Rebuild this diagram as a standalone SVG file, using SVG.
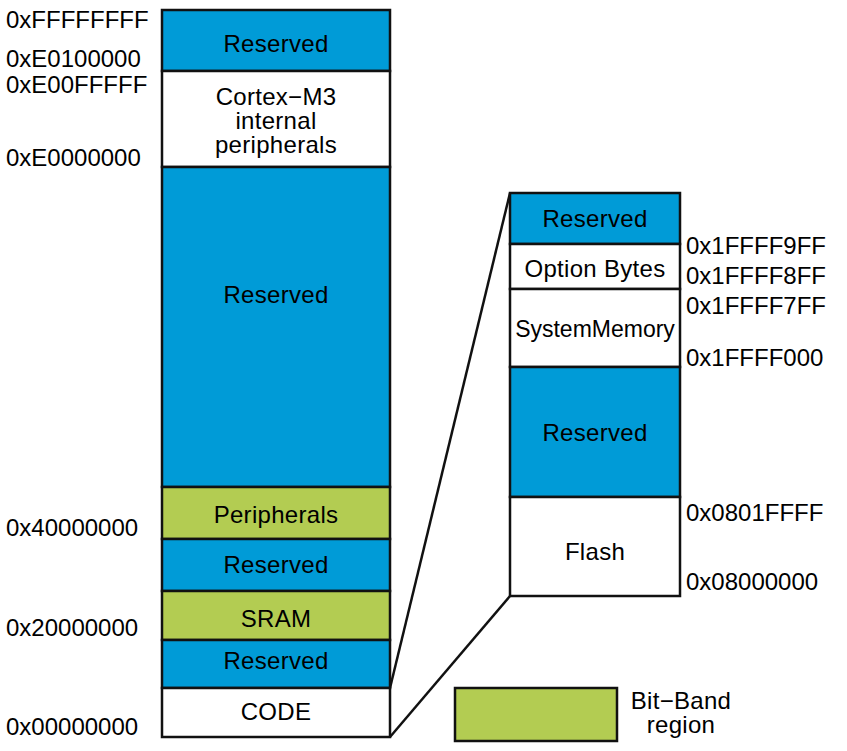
<svg xmlns="http://www.w3.org/2000/svg" width="847" height="751" viewBox="0 0 847 751">
<style>
.b{fill:#009BD7;stroke:#111;stroke-width:2.5}
.g{fill:#B3CC52;stroke:#111;stroke-width:2.5}
.w{fill:#fff;stroke:#111;stroke-width:2.5}
text{font-family:"Liberation Sans",Arial,sans-serif;fill:#000}
.l{font-size:24px;text-anchor:middle;letter-spacing:0.3px}
.a{font-size:24px}
.c{fill:none;stroke:#111;stroke-width:2.5}
</style>
<rect width="847" height="751" fill="#fff"/>
<g id="connectors">
<line class="c" x1="390" y1="688" x2="510" y2="193"/>
<line class="c" x1="390" y1="737" x2="510" y2="596"/>
</g>
<g id="reserved-top"><rect class="b" x="162" y="10" width="228" height="61"/><text class="l" x="276" y="52">Reserved</text></g>
<g id="cortex"><rect class="w" x="162" y="71" width="228" height="96"/><text class="l" x="276" y="105">Cortex−M3</text><text class="l" x="276" y="129">internal</text><text class="l" x="276" y="153">peripherals</text></g>
<g id="reserved-big"><rect class="b" x="162" y="167" width="228" height="320"/><text class="l" x="276" y="303">Reserved</text></g>
<g id="peripherals"><rect class="g" x="162" y="487" width="228" height="52"/><text class="l" x="276" y="523">Peripherals</text></g>
<g id="reserved-2"><rect class="b" x="162" y="539" width="228" height="52"/><text class="l" x="276" y="573">Reserved</text></g>
<g id="sram"><rect class="g" x="162" y="591" width="228" height="49"/><text class="l" x="276" y="627">SRAM</text></g>
<g id="reserved-3"><rect class="b" x="162" y="640" width="228" height="48"/><text class="l" x="276" y="669">Reserved</text></g>
<g id="code"><rect class="w" x="162" y="688" width="228" height="49"/><text class="l" x="276" y="720">CODE</text></g>
<g id="left-addresses">
<text class="a" x="6" y="28">0xFFFFFFFF</text>
<text class="a" x="6" y="67">0xE0100000</text>
<text class="a" x="6" y="93">0xE00FFFFF</text>
<text class="a" x="6" y="166">0xE0000000</text>
<text class="a" x="6" y="536">0x40000000</text>
<text class="a" x="6" y="636">0x20000000</text>
<text class="a" x="6" y="735">0x00000000</text>
</g>
<g id="r-reserved-top"><rect class="b" x="510" y="193" width="170" height="51"/><text class="l" x="595" y="227">Reserved</text></g>
<g id="option-bytes"><rect class="w" x="510" y="244" width="170" height="45"/><text class="l" x="595" y="277">Option Bytes</text></g>
<g id="system-memory"><rect class="w" x="510" y="289" width="170" height="78"/><text class="l" x="595" y="337" style="letter-spacing:0;font-size:23px">SystemMemory</text></g>
<g id="r-reserved"><rect class="b" x="510" y="367" width="170" height="130"/><text class="l" x="595" y="441">Reserved</text></g>
<g id="flash"><rect class="w" x="510" y="497" width="170" height="99"/><text class="l" x="595" y="560">Flash</text></g>
<g id="right-addresses">
<text class="a" x="686" y="254">0x1FFFF9FF</text>
<text class="a" x="686" y="284">0x1FFFF8FF</text>
<text class="a" x="686" y="314">0x1FFFF7FF</text>
<text class="a" x="686" y="366">0x1FFFF000</text>
<text class="a" x="686" y="521">0x0801FFFF</text>
<text class="a" x="686" y="590">0x08000000</text>
</g>
<g id="legend"><rect class="g" x="455" y="688" width="162" height="53"/><text class="l" x="681" y="709">Bit−Band</text><text class="l" x="681" y="733">region</text></g>
</svg>
